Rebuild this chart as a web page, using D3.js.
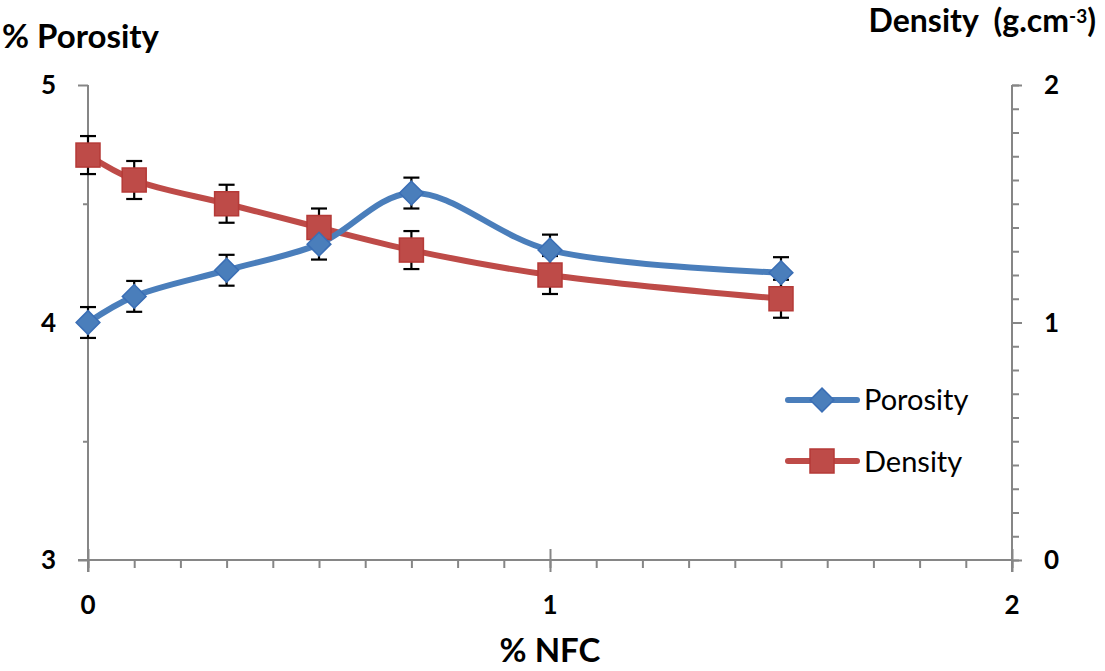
<!DOCTYPE html>
<html><head><meta charset="utf-8">
<script src="https://cdn.jsdelivr.net/npm/d3@7"></script>
<style>body{margin:0;background:#fff}svg{display:block}text{font-family:Lato,"Open Sans",sans-serif}</style>
</head><body>
<svg id="c" width="1105" height="671"></svg>
<script>
const nfc = [0, 0.1, 0.3, 0.5, 0.7, 1.0, 1.5];
const porosity = [4.0, 4.11, 4.22, 4.33, 4.545, 4.305, 4.21];
const porosityErr = [0.065, 0.065, 0.065, 0.065, 0.065, 0.065, 0.065];
const density = [1.705, 1.60, 1.50, 1.40, 1.305, 1.20, 1.10];
const densityErr = [0.08, 0.08, 0.08, 0.08, 0.08, 0.08, 0.08];
const xTicks = [0, 1, 2];
const yLeftTicks = [3, 4, 5];
const yRightTicks = [0, 1, 2];

const svg = d3.select("#c");
const L = 88, R = 1012, T = 85, B = 560;
const x = d3.scaleLinear().domain([0, 2]).range([L, R]);
const yL = d3.scaleLinear().domain([3, 5]).range([B, T]);
const yR = d3.scaleLinear().domain([0, 2]).range([B, T]);
const axisCol = "#868686";

// ticks
svg.append("g").attr("transform", `translate(0,${B})`)
  .call(d3.axisBottom(x).tickValues(d3.range(0, 2.0001, 0.1)).tickSize(8).tickFormat(""));
svg.append("g").attr("transform", `translate(0,${B})`)
  .call(d3.axisBottom(x).tickValues(xTicks).tickSize(12).tickFormat(""))
  .call(g => g.selectAll(".tick line").attr("y1", -11));
svg.append("g").attr("transform", `translate(${L},0)`)
  .call(d3.axisLeft(yL).tickValues([3.5, 4.5]).tickSize(5).tickFormat(""));
svg.append("g").attr("transform", `translate(${L},0)`)
  .call(d3.axisLeft(yL).tickValues(yLeftTicks).tickSize(10).tickFormat(""));
svg.append("g").attr("transform", `translate(${R},0)`)
  .call(d3.axisRight(yR).tickValues(d3.range(0, 2.0001, 0.1)).tickSize(7).tickFormat(""));
svg.append("g").attr("transform", `translate(${R},0)`)
  .call(d3.axisRight(yR).tickValues(yRightTicks).tickSize(10).tickFormat(""));
svg.selectAll(".domain").remove();
svg.selectAll(".tick line").attr("stroke", axisCol).attr("stroke-width", 2);
svg.append("line").attr("x1", L - 10).attr("x2", R).attr("y1", B).attr("y2", B).attr("stroke", axisCol).attr("stroke-width", 2);
svg.append("line").attr("x1", L).attr("x2", L).attr("y1", T).attr("y2", B + 12).attr("stroke", axisCol).attr("stroke-width", 2);
svg.append("line").attr("x1", R).attr("x2", R).attr("y1", T).attr("y2", B + 12).attr("stroke", axisCol).attr("stroke-width", 2);

// tick labels
const lab = svg.append("g").attr("font-weight", "bold").attr("font-size", 26).attr("fill", "#000");
yLeftTicks.forEach(v => lab.append("text").attr("x", 56).attr("y", yL(v) + 9).attr("text-anchor", "end").text(v));
yRightTicks.forEach(v => lab.append("text").attr("x", 1044).attr("y", yR(v) + 9).text(v));
xTicks.forEach(v => lab.append("text").attr("x", x(v)).attr("y", 614).attr("text-anchor", "middle").text(v));

// titles
const tt = svg.append("g").attr("font-weight", "bold").attr("font-size", 33).attr("fill", "#000");
tt.append("text").attr("x", 2).attr("y", 48).text("% Porosity");
const dt = tt.append("text").attr("x", 1096).attr("y", 32).attr("text-anchor", "end").attr("font-size", 32);
dt.append("tspan").text("Density\u00a0\u00a0(g.cm");
dt.append("tspan").attr("dy", -9).attr("font-size", 19).text("-3");
dt.append("tspan").attr("dy", 9).text(")");
tt.append("text").attr("x", x(1)).attr("y", 662).attr("text-anchor", "middle").text("% NFC");

const blue = "#4a7ebb", blueDark = "#3a6eb5", red = "#be4b48", redDark = "#b53a37";
const curve = d3.curveCatmullRom.alpha(0.5);

// lines
const lineP = d3.line().x((d, i) => x(nfc[i])).y(d => yL(d)).curve(curve);
const lineD = d3.line().x((d, i) => x(nfc[i])).y(d => yR(d)).curve(curve);
svg.append("path").attr("d", lineD(density)).attr("fill", "none").attr("stroke", red).attr("stroke-width", 6);
svg.append("path").attr("d", lineP(porosity)).attr("fill", "none").attr("stroke", blue).attr("stroke-width", 6);

// error bars
function errBars(vals, errs, ys) {
  const g = svg.append("g").attr("stroke", "#000").attr("stroke-width", 2.2);
  vals.forEach((v, i) => {
    const cx = x(nfc[i]);
    g.append("line").attr("x1", cx).attr("x2", cx).attr("y1", ys(v - errs[i])).attr("y2", ys(v + errs[i]));
    [v - errs[i], v + errs[i]].forEach(e => g.append("line").attr("x1", cx - 8).attr("x2", cx + 8).attr("y1", ys(e)).attr("y2", ys(e)));
  });
}
errBars(density, densityErr, yR);
errBars(porosity, porosityErr, yL);

// markers
svg.append("g").selectAll("rect").data(density).join("rect")
  .attr("x", (d, i) => x(nfc[i]) - 12).attr("y", d => yR(d) - 12).attr("width", 24).attr("height", 24)
  .attr("fill", red).attr("stroke", redDark).attr("stroke-width", 1.5);
const diamond = d3.symbol().type(d3.symbolDiamond2).size(360);
svg.append("g").selectAll("path").data(porosity).join("path")
  .attr("transform", (d, i) => `translate(${x(nfc[i])},${yL(d)})`).attr("d", diamond)
  .attr("fill", blue).attr("stroke", blueDark).attr("stroke-width", 1.5);

// legend
const lg = svg.append("g");
lg.append("line").attr("x1", 788).attr("x2", 857).attr("y1", 400).attr("y2", 400).attr("stroke", blue).attr("stroke-width", 6).attr("stroke-linecap", "round");
lg.append("path").attr("transform", "translate(822,400)").attr("d", diamond).attr("fill", blue).attr("stroke", blueDark).attr("stroke-width", 1.5);
lg.append("text").attr("x", 864).attr("y", 410).attr("font-size", 29).text("Porosity");
lg.append("line").attr("x1", 788).attr("x2", 857).attr("y1", 461).attr("y2", 461).attr("stroke", red).attr("stroke-width", 6).attr("stroke-linecap", "round");
lg.append("rect").attr("x", 810).attr("y", 449).attr("width", 24).attr("height", 24).attr("fill", red).attr("stroke", redDark).attr("stroke-width", 1.5);
lg.append("text").attr("x", 864).attr("y", 472).attr("font-size", 29).text("Density");
</script>
</body></html>
